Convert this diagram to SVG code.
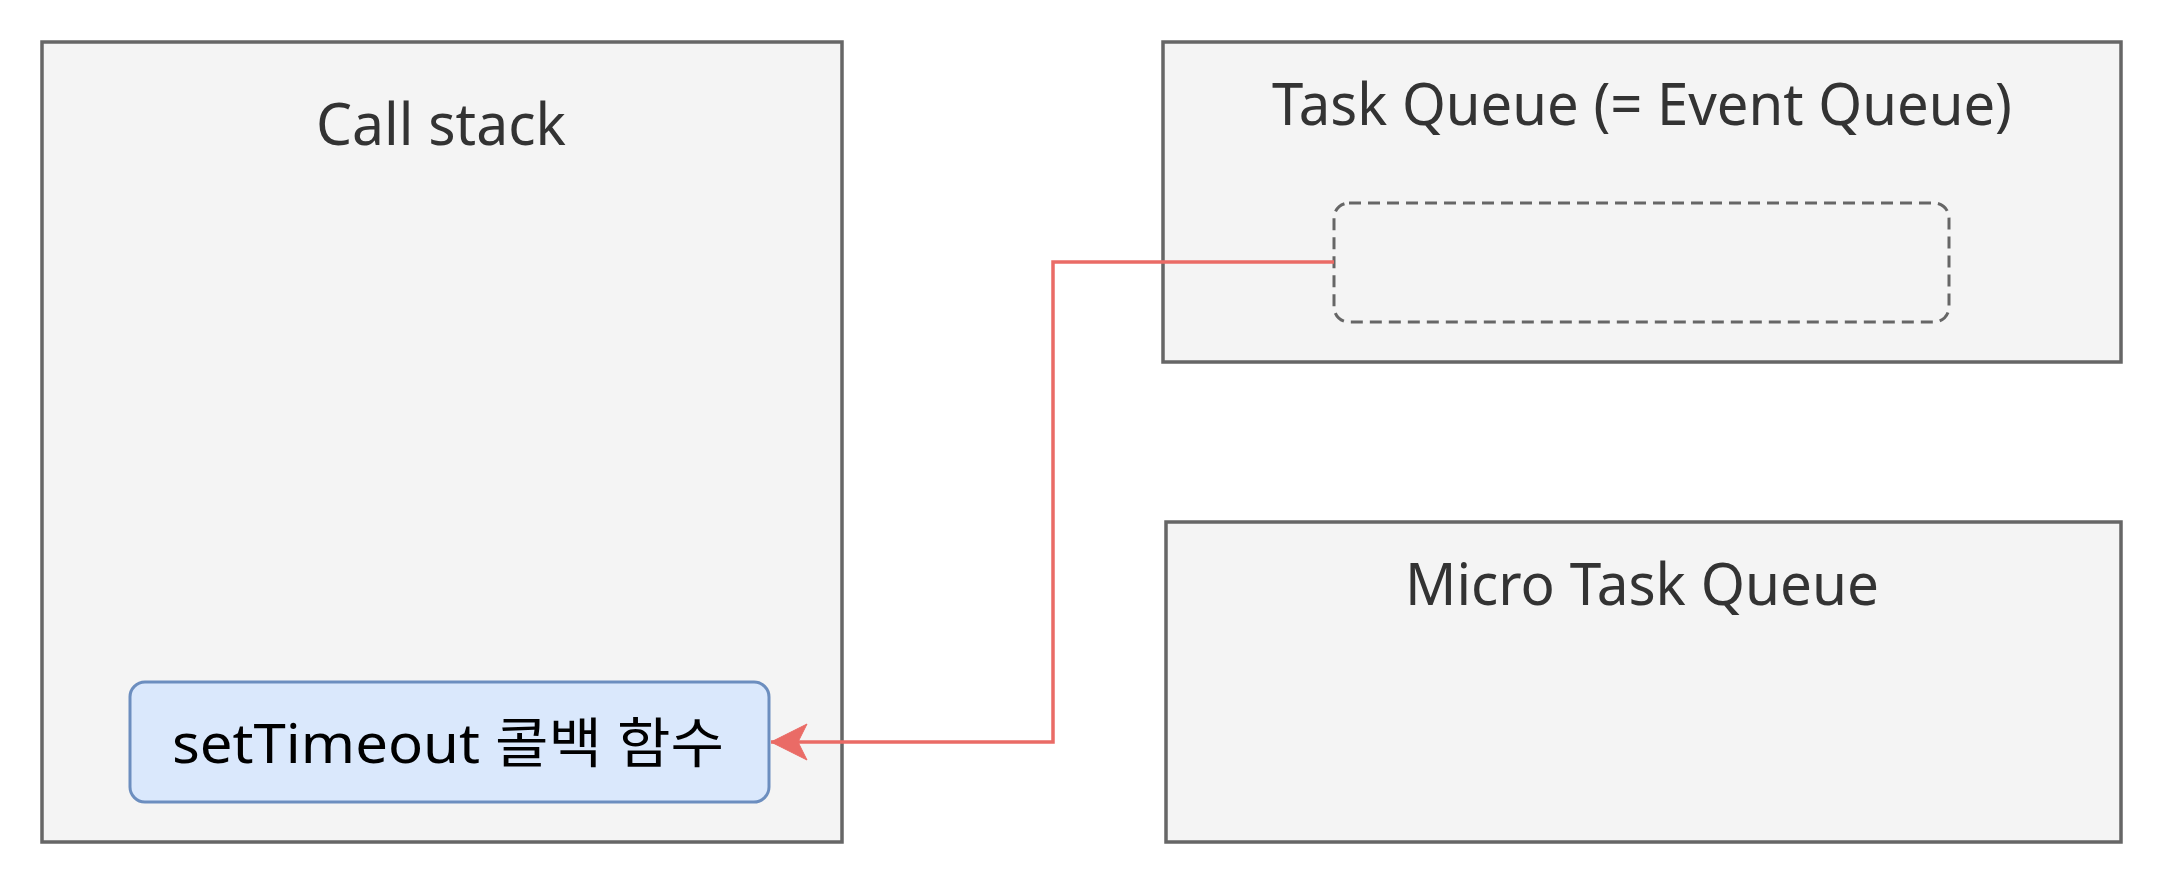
<svg xmlns="http://www.w3.org/2000/svg" width="2164" height="884" viewBox="0 0 2164 884">
<defs>
<style>
.box{fill:#f4f4f4;stroke:#666666;stroke-width:3.5}
.title{font-family:"Comic Sans MS","Noto Sans","Noto Sans CJK KR",sans-serif;font-size:58px;fill:#333333;text-anchor:middle}
.lbl{font-family:"Comic Sans MS","Noto Sans","Noto Sans CJK KR",sans-serif;font-size:54px;fill:#000000;text-anchor:middle}
.edge{fill:none;stroke:#ea6b66;stroke-width:3.5}
</style>
<marker id="arr" markerUnits="userSpaceOnUse" markerWidth="40" markerHeight="40" viewBox="0 0 40 40" refX="38" refY="20" orient="auto">
<path d="M38,20 L2,2 L11,20 L2,38 Z" fill="#ea6b66" stroke="#ea6b66" stroke-width="1"/>
</marker>
</defs>
<rect width="2164" height="884" fill="#ffffff"/>
<g id="callstack">
<rect class="box" x="42" y="42" width="800" height="800"/>
<text class="title" x="441" y="145" textLength="250" lengthAdjust="spacingAndGlyphs">Call stack</text>
</g>
<g id="taskqueue">
<rect class="box" x="1163" y="42" width="958" height="320"/>
<text class="title" x="1642" y="125" textLength="740" lengthAdjust="spacingAndGlyphs">Task Queue (= Event Queue)</text>
</g>
<g id="taskslot">
<rect x="1334" y="203" width="615" height="119" rx="15" ry="15" fill="#f4f4f4" stroke="#666666" stroke-width="3" stroke-dasharray="12 7"/>
</g>
<g id="microtaskqueue">
<rect class="box" x="1166" y="522" width="955" height="320"/>
<text class="title" x="1642" y="605" textLength="474" lengthAdjust="spacingAndGlyphs">Micro Task Queue</text>
</g>
<g id="callback">
<rect x="130" y="682" width="639" height="120" rx="15" ry="15" fill="#dae8fc" stroke="#6c8ebf" stroke-width="3"/>
<text class="lbl" x="448" y="763" textLength="552" lengthAdjust="spacingAndGlyphs">setTimeout 콜백 함수</text>
</g>
<g id="connectors">
<path class="edge" d="M1334,262 L1053,262 L1053,742 L771,742" marker-end="url(#arr)"/>
</g>
</svg>
